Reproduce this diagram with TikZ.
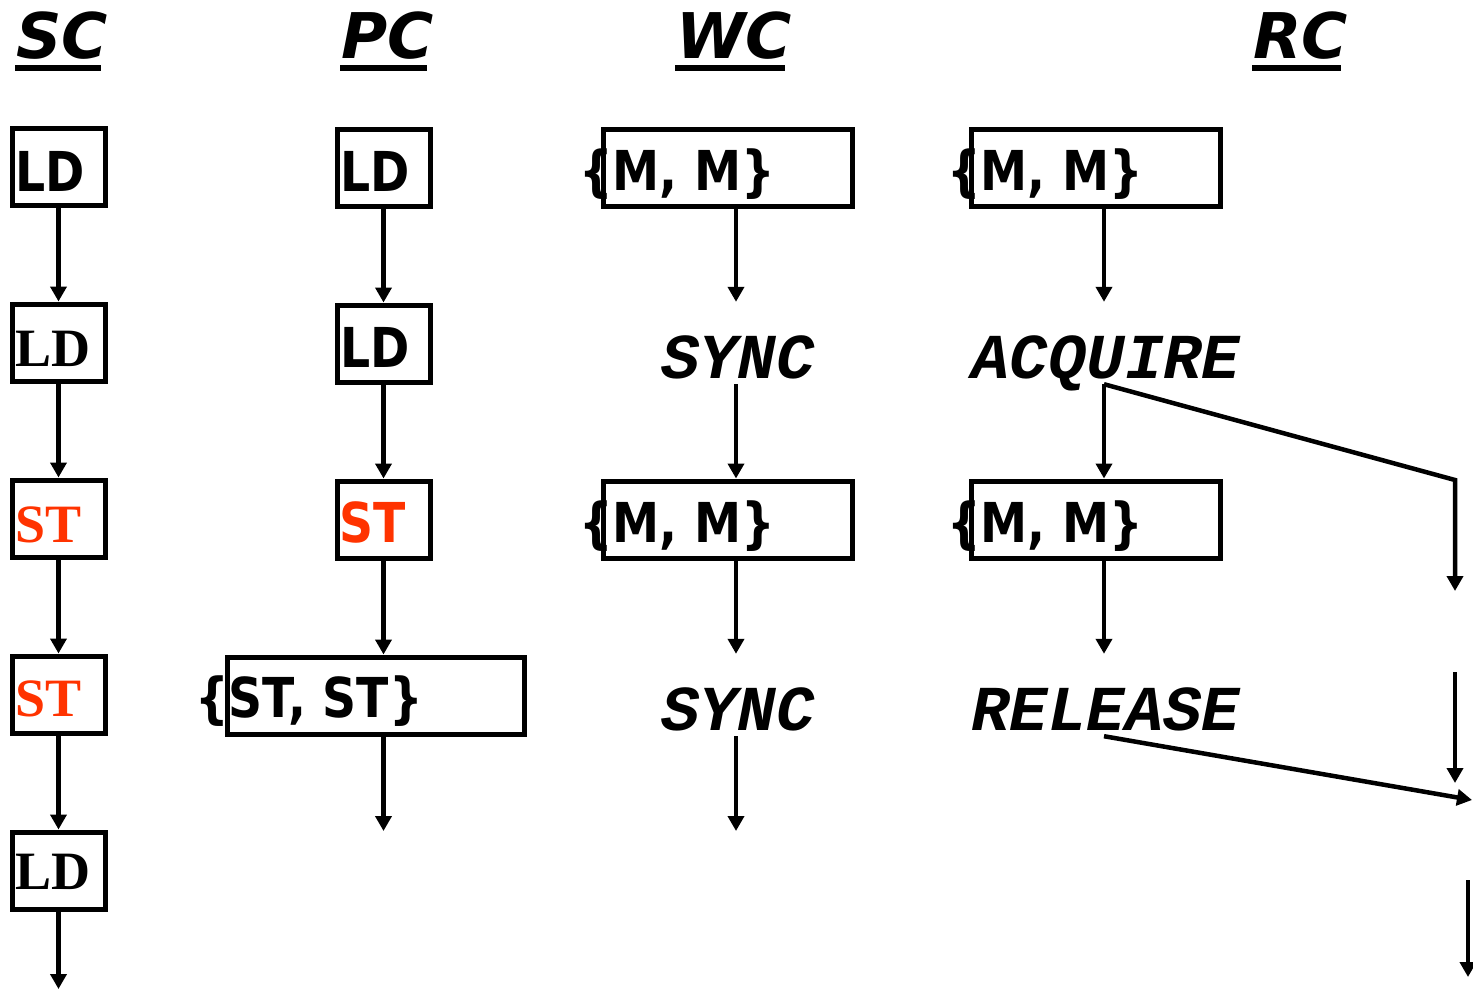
\documentclass[tikz,border=0pt]{standalone}
\usepackage{fontspec}
\setmainfont{Liberation Serif}
\newfontfamily\tah[FakeStretch=0.86]{DejaVu Sans}
\newfontfamily\verd{DejaVu Sans}
\newfontfamily\cour{Liberation Mono}
\usetikzlibrary{arrows.meta}
\definecolor{stred}{RGB}{255,51,0}
\begin{document}
\begin{tikzpicture}[x=1pt,y=-1pt,
  box/.style={draw,line width=5pt,inner sep=0pt},
  sbox/.style={box,minimum width=93pt,minimum height=77pt},
  wbox/.style={box,minimum width=249pt,minimum height=77pt},
  arr/.style={line width=4.5pt,-{Triangle[length=15pt,width=16pt]}},
  hdr/.style={inner sep=0pt,anchor=base west,font=\verd\bfseries\itshape\fontsize{63}{70}\selectfont},
  sans/.style={inner sep=0pt,anchor=base west,font=\tah\bfseries\fontsize{55}{60}\selectfont},
  serif/.style={inner sep=0pt,anchor=base west,font=\bfseries\fontsize{54}{60}\selectfont},
  mono/.style={inner sep=0pt,anchor=base,text height=76pt,text depth=6pt,font=\cour\bfseries\itshape\fontsize{64}{70}\selectfont}]
\useasboundingbox (0,0) rectangle (1473,989);
% headers
\node[hdr] (hsc) at (16,58) {SC};
\node[hdr] (hpc) at (341,58) {PC};
\node[hdr] (hwc) at (676,58) {WC};
\node[hdr] (hrc) at (1253,58) {RC};
\foreach \h in {hsc,hpc,hwc,hrc}
  \draw[line width=6pt] ([xshift=-1pt,yshift=-10pt]\h.base west) -- ([xshift=-7pt,yshift=-10pt]\h.base east);
% SC column
\node[sbox] (sc1) at (58.5,166.5) {};
\node[sbox] (sc2) at (58.5,342.5) {};
\node[sbox] (sc3) at (58.5,518.5) {};
\node[sbox] (sc4) at (58.5,694.5) {};
\node[sbox] (sc5) at (58.5,870.5) {};
\node[sans] (tsc1) at (15,191) {LD};
\node[serif] (tsc2) at (15,366) {LD};
\node[serif,text=stred] (tsc3) at (15,542) {ST};
\node[serif,text=stred] (tsc4) at (15,716) {ST};
\node[serif] (tsc5) at (15,889) {LD};
\coordinate (scend) at (58.5,989);
\draw[arr] (sc1) -- (sc2);
\draw[arr] (sc2) -- (sc3);
\draw[arr] (sc3) -- (sc4);
\draw[arr] (sc4) -- (sc5);
\draw[arr] (sc5) -- (scend);
% PC column
\node[sbox] (pc1) at (383.5,167.5) {};
\node[sbox] (pc2) at (383.5,343.5) {};
\node[sbox] (pc3) at (383.5,519.5) {};
\node[box,minimum width=297pt,minimum height=77pt] (pc4) at (375.5,695.5) {};
\node[sans] (tpc1) at (340,191) {LD};
\node[sans] (tpc2) at (340,367) {LD};
\node[sans,text=stred] (tpc3) at (339,542) {ST};
\node[sans] (tpc4) at (195,717) {\{ST, ST\}};
\coordinate (pcend) at (383.5,831);
\draw[arr] (pc1) -- (pc2);
\draw[arr] (pc2) -- (pc3);
\draw[arr] (pc3) -- (pc3 |- pc4.north);
\draw[arr] (pc4.south -| pc3) -- (pcend);
% WC column
\node[wbox] (wc1) at (727.5,167.5) {};
\node[wbox] (wc2) at (727.5,519.5) {};
\node[sans] (twc1) at (579,190) {\{M, M\}};
\node[sans] (twc2) at (579,542) {\{M, M\}};
\node[mono] (sy1) at (738,378) {SYNC};
\node[mono] (sy2) at (738,730) {SYNC};
\coordinate (wcend) at (736,831);
\draw[arr] (wc1.south -| wcend) -- (sy1.north -| wcend);
\draw[arr] (sy1.south -| wcend) -- (wc2.north -| wcend);
\draw[arr] (wc2.south -| wcend) -- (sy2.north -| wcend);
\draw[arr] (sy2.south -| wcend) -- (wcend);
% RC column
\node[wbox] (rc1) at (1095.5,167.5) {};
\node[wbox] (rc2) at (1095.5,519.5) {};
\node[sans] (trc1) at (947,190) {\{M, M\}};
\node[sans] (trc2) at (947,542) {\{M, M\}};
\node[mono] (acq) at (1106,378) {ACQUIRE};
\node[mono] (rel) at (1106,730) {RELEASE};
\coordinate (rx) at (1104,0);
\draw[arr] (rc1.south -| rx) -- (acq.north -| rx);
\draw[arr] (acq.south -| rx) -- (rc2.north -| rx);
\draw[arr] (rc2.south -| rx) -- (rel.north -| rx);
% side branches
\coordinate (b1) at (1455,480);
\coordinate (b1e) at (1455,591);
\coordinate (b2s) at (1455,672);
\coordinate (b2e) at (1455,783);
\coordinate (b3e) at (1472,800);
\coordinate (b4s) at (1468,880);
\coordinate (b4e) at (1468,977);
\draw[arr] (acq.south -| rx) -- (b1) -- (b1e);
\draw[arr] (b2s) -- (b2e);
\draw[arr] (rel.south -| rx) -- (b3e);
\draw[arr] (b4s) -- (b4e);
\end{tikzpicture}
\end{document}
